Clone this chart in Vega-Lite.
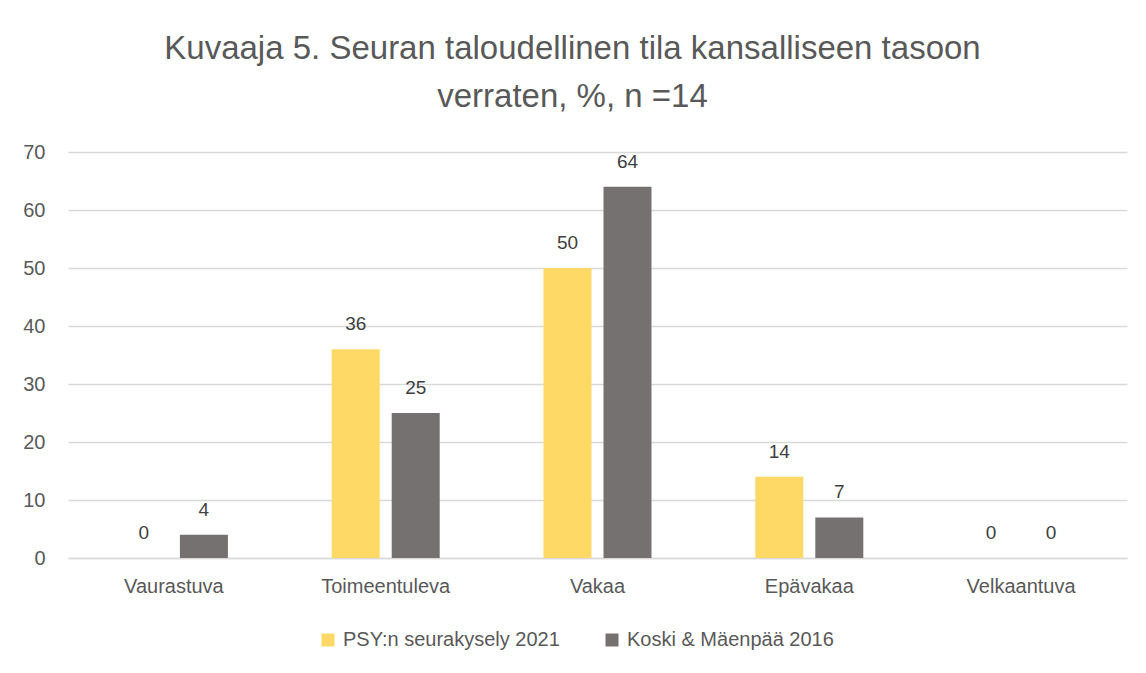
{
  "$schema": "https://vega.github.io/schema/vega-lite/v6.json",
  "autosize": "none",
  "width": 1059,
  "height": 406,
  "padding": {"left": 68, "top": 152, "right": 19, "bottom": 115},
  "background": "white",
  "title": {
    "text": ["Kuvaaja 5. Seuran taloudellinen tila kansalliseen tasoon", "verraten, %, n =14"],
    "font": "Liberation Sans",
    "fontSize": 33,
    "fontWeight": "normal",
    "color": "#595959",
    "lineHeight": 48,
    "anchor": "middle",
    "dx": -25,
    "offset": 28
  },
  "data": {
    "values": [
      {"kategoria": "Vaurastuva", "sarja": "PSY:n seurakysely 2021", "arvo": 0},
      {"kategoria": "Vaurastuva", "sarja": "Koski & Mäenpää 2016", "arvo": 4},
      {"kategoria": "Toimeentuleva", "sarja": "PSY:n seurakysely 2021", "arvo": 36},
      {"kategoria": "Toimeentuleva", "sarja": "Koski & Mäenpää 2016", "arvo": 25},
      {"kategoria": "Vakaa", "sarja": "PSY:n seurakysely 2021", "arvo": 50},
      {"kategoria": "Vakaa", "sarja": "Koski & Mäenpää 2016", "arvo": 64},
      {"kategoria": "Epävakaa", "sarja": "PSY:n seurakysely 2021", "arvo": 14},
      {"kategoria": "Epävakaa", "sarja": "Koski & Mäenpää 2016", "arvo": 7},
      {"kategoria": "Velkaantuva", "sarja": "PSY:n seurakysely 2021", "arvo": 0},
      {"kategoria": "Velkaantuva", "sarja": "Koski & Mäenpää 2016", "arvo": 0}
    ]
  },
  "encoding": {
    "x": {
      "field": "kategoria",
      "type": "nominal",
      "sort": ["Vaurastuva", "Toimeentuleva", "Vakaa", "Epävakaa", "Velkaantuva"],
      "scale": {"paddingInner": 0.49, "paddingOuter": 0.245},
      "axis": {
        "title": null,
        "labelAngle": 0,
        "labelFont": "Liberation Sans",
        "labelFontSize": 20,
        "labelColor": "#595959",
        "labelPadding": 18,
        "ticks": false,
        "domainColor": "#d9d9d9",
        "domainWidth": 1.5,
        "grid": false
      }
    },
    "xOffset": {
      "field": "sarja",
      "type": "nominal",
      "sort": ["PSY:n seurakysely 2021", "Koski & Mäenpää 2016"],
      "scale": {"paddingInner": 0.2, "paddingOuter": 0}
    },
    "y": {
      "field": "arvo",
      "type": "quantitative",
      "scale": {"domain": [0, 70], "nice": false},
      "axis": {
        "title": null,
        "values": [0, 10, 20, 30, 40, 50, 60, 70],
        "labelFont": "Liberation Sans",
        "labelFontSize": 20,
        "labelColor": "#595959",
        "labelPadding": 23,
        "ticks": false,
        "domain": false,
        "gridColor": "#d9d9d9",
        "gridWidth": 1.5
      }
    }
  },
  "layer": [
    {
      "mark": {"type": "bar"},
      "encoding": {
        "color": {
          "field": "sarja",
          "type": "nominal",
          "sort": ["PSY:n seurakysely 2021", "Koski & Mäenpää 2016"],
          "scale": {"domain": ["PSY:n seurakysely 2021", "Koski & Mäenpää 2016"], "range": ["#FFD966", "#767171"]},
          "legend": {
            "title": null,
            "orient": "none",
            "direction": "horizontal",
            "legendX": 250,
            "legendY": 478,
            "symbolType": "square",
            "symbolSize": 169,
            "symbolStrokeWidth": 0,
            "symbolOpacity": 1,
            "labelFont": "Liberation Sans",
            "labelFontSize": 20,
            "labelColor": "#595959",
            "labelOffset": 5,
            "labelLimit": 0,
            "columnPadding": 42
          }
        }
      }
    },
    {
      "mark": {
        "type": "text",
        "baseline": "alphabetic",
        "dy": -19,
        "font": "Liberation Sans",
        "fontSize": 19,
        "color": "#404040"
      },
      "encoding": {
        "text": {"field": "arvo", "type": "quantitative"}
      }
    }
  ],
  "config": {
    "view": {"stroke": null}
  }
}
